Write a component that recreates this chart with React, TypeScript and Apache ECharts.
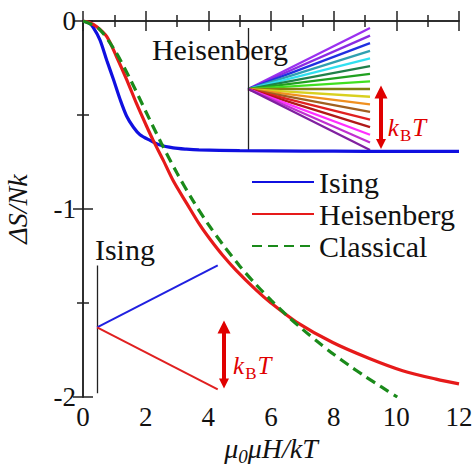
import React, { useEffect, useRef } from "react";
import * as echarts from "echarts";

// ---- data ----
const isingX = [0, 0.2, 0.33, 0.54, 0.76, 0.97, 1.18, 1.39, 1.61, 1.82, 2.14, 2.46, 2.88, 3.3, 3.7, 5, 7, 9, 12];
const isingY = [0, -0.012, -0.035, -0.1, -0.21, -0.31, -0.415, -0.505, -0.565, -0.605, -0.635, -0.66, -0.675, -0.682, -0.686, -0.69, -0.692, -0.693, -0.693];

const heisX = [0, 0.2, 0.44, 0.76, 1.07, 1.39, 1.71, 2.03, 2.24, 2.56, 2.88, 3.31, 3.73, 4.05, 4.45, 4.88, 5.52, 6.0, 6.8, 7.97, 9.14, 10.2, 11.27, 12];
const heisY = [0, -0.008, -0.03, -0.083, -0.19, -0.31, -0.44, -0.56, -0.635, -0.74, -0.85, -0.97, -1.085, -1.16, -1.245, -1.325, -1.43, -1.5, -1.6, -1.71, -1.795, -1.86, -1.905, -1.93];

const classX = [0, 0.5, 1.0, 1.5, 2.0, 2.5, 3.0, 3.5, 4.0, 4.5, 5.0, 5.5, 6.0, 6.5, 7.0, 7.5, 8.0, 8.5, 9.0, 9.5, 10.03];
const classY = [0, -0.04, -0.152, -0.307, -0.48, -0.65, -0.809, -0.953, -1.082, -1.197, -1.303, -1.398, -1.485, -1.565, -1.639, -1.708, -1.773, -1.833, -1.89, -1.944, -2.0];

const legendNames = ["Ising", "Heisenberg", "Classical"];
const yTickLabels = ["-2", "-1", "0"];

// Heisenberg inset fan
const fanOrigin = [5.27, -0.362];
const fanEndX = 9.16;
const fanEndY = [-0.037, -0.078, -0.118, -0.159, -0.199, -0.24, -0.281, -0.321, -0.362, -0.403, -0.443, -0.484, -0.524, -0.565, -0.605, -0.646, -0.686];
const fanColors = ["#9b30f0", "#8a2be2", "#2030e0", "#30a0b0", "#30e0f0", "#20804a", "#20a020", "#40e020", "#808010", "#d8d020", "#f09020", "#a06020", "#e02020", "#b01818", "#ff30ff", "#c030d0", "#8020a0"];
const heisVLine = [[5.27, -0.037], [5.27, -0.688]];
const heisArrow = [[9.51, -0.378], [9.51, -0.654]];

// Ising inset
const isingOrigin = [0.45, -1.63];
const isingUpEnd = [4.3, -1.3];
const isingDownEnd = [4.3, -1.96];
const isingVLine = [[0.45, -1.3], [0.45, -1.98]];
const isingArrow = [[4.5, -1.627], [4.5, -1.928]];

// annotation anchors (left-middle of text)
const heisLabelPos = [2.2, -0.154];
const isingLabelPos = [0.38, -1.213];
const kbtHeisPos = [9.73, -0.569];
const kbtIsingPos = [4.79, -1.835];

const FONT = "Liberation Serif";

const zip = (xs: number[], ys: number[]) => xs.map((x, i) => [x, ys[i]]);

export default function App() {
  const ref = useRef<HTMLDivElement>(null);
  useEffect(() => {
    if (!ref.current) return;
    const chart = echarts.init(ref.current, undefined, { renderer: "svg" });
    const axisLine = { show: true, lineStyle: { color: "#222", width: 1.5 } };
    const tick = { show: true, inside: true, length: 10, lineStyle: { color: "#222", width: 1.5 } };
    const minor = { show: true, splitNumber: 2, length: 6, lineStyle: { color: "#222", width: 1.5 } };
    const kbtRich = {
      k: { fontFamily: FONT, fontStyle: "italic", fontSize: 25, color: "#e00000", lineHeight: 32 },
      b: { fontFamily: FONT, fontSize: 17, color: "#e00000", verticalAlign: "bottom", lineHeight: 32, padding: [0, 1, 0, 1] },
    };
    chart.setOption({
      animation: false,
      backgroundColor: "#fff",
      textStyle: { fontFamily: FONT },
      grid: { left: 83, top: 21, width: 376, height: 376, containLabel: false, outerBoundsMode: "none" },
      legend: {
        data: legendNames,
        orient: "vertical",
        left: 251,
        top: 166,
        itemWidth: 62,
        itemHeight: 14,
        itemGap: 0,
        padding: 0,
        itemStyle: { opacity: 0 },
        textStyle: { fontFamily: FONT, fontSize: 30, color: "#111", lineHeight: 32 },
      },
      xAxis: [
        {
          type: "value", min: 0, max: 12, interval: 2, position: "bottom",
          axisLine, axisTick: tick, minorTick: minor, splitLine: { show: false },
          axisLabel: { fontFamily: FONT, fontSize: 27, color: "#111", margin: 6 },
          name: "{m|μ}{s|0}{m|μH/kT}",
          nameLocation: "middle",
          nameGap: 30,
          nameTextStyle: {
            rich: {
              m: { fontFamily: FONT, fontStyle: "italic", fontSize: 28, color: "#111", lineHeight: 34 },
              s: { fontFamily: FONT, fontStyle: "italic", fontSize: 19, color: "#111", verticalAlign: "bottom", lineHeight: 34 },
            },
          },
        },
        {
          type: "value", min: 0, max: 12, interval: 2, position: "top",
          axisLine, axisTick: tick, minorTick: minor, splitLine: { show: false },
          axisLabel: { show: false },
        },
      ],
      yAxis: [
        {
          type: "value", min: -2, max: 0, interval: 1, position: "left",
          axisLine, axisTick: tick, minorTick: minor, splitLine: { show: false },
          axisLabel: {
            fontFamily: FONT, fontSize: 27, color: "#111", margin: 7,
            formatter: (v: number) => yTickLabels[Math.round(v) + 2],
          },
          name: "ΔS/Nk",
          nameLocation: "middle",
          nameRotate: 90,
          nameGap: 52,
          nameTextStyle: { fontFamily: FONT, fontStyle: "italic", fontSize: 28, color: "#111" },
        },
        {
          type: "value", min: -2, max: 0, interval: 1, position: "right",
          axisLine, axisTick: tick, minorTick: minor, splitLine: { show: false },
          axisLabel: { show: false },
        },
      ],
      series: [
        {
          type: "lines", coordinateSystem: "cartesian2d", z: 2,
          lineStyle: { width: 2.3, opacity: 1 },
          data: fanEndY.map((y, i) => ({
            coords: [fanOrigin, [fanEndX, y]],
            lineStyle: { color: fanColors[i], width: 2.3, opacity: 1 },
          })),
        },
        {
          type: "lines", coordinateSystem: "cartesian2d", z: 2,
          lineStyle: { color: "#222", width: 1.3, opacity: 1 },
          data: [{ coords: heisVLine }, { coords: isingVLine }],
        },
        {
          type: "lines", coordinateSystem: "cartesian2d", z: 2,
          data: [
            { coords: [isingOrigin, isingUpEnd], lineStyle: { color: "#2020e0", width: 2, opacity: 1 } },
            { coords: [isingOrigin, isingDownEnd], lineStyle: { color: "#e02020", width: 2, opacity: 1 } },
          ],
        },
        {
          type: "lines", coordinateSystem: "cartesian2d", z: 4,
          symbol: ["triangle", "triangle"],
          symbolSize: [13, 10],
          lineStyle: { color: "#e00000", width: 4, opacity: 1 },
          itemStyle: { color: "#e00000" },
          data: [{ coords: heisArrow }, { coords: isingArrow }],
        },
        {
          name: "Ising", type: "line", z: 3, symbol: "none", smooth: 0.3,
          data: zip(isingX, isingY),
          lineStyle: { color: "#1010e0", width: 3.2 }, itemStyle: { color: "#1010e0" },
        },
        {
          name: "Heisenberg", type: "line", z: 3, symbol: "none", smooth: 0.3,
          data: zip(heisX, heisY),
          lineStyle: { color: "#e61a1a", width: 3.2 }, itemStyle: { color: "#e61a1a" },
        },
        {
          name: "Classical", type: "line", z: 3, symbol: "none", smooth: 0.3,
          data: zip(classX, classY),
          lineStyle: { color: "#1a8a1a", width: 3.2, type: [10, 6] }, itemStyle: { color: "#1a8a1a" },
        },
        {
          type: "scatter", z: 5, symbolSize: 0, silent: true,
          itemStyle: { opacity: 1 },
          label: { show: true, position: "right", distance: 0, fontFamily: FONT, color: "#111" },
          data: [
            { value: heisLabelPos, label: { formatter: "Heisenberg", fontSize: 30 } },
            { value: isingLabelPos, label: { formatter: "Ising", fontSize: 30 } },
            { value: kbtHeisPos, label: { formatter: "{k|k}{b|B}{k|T}", rich: kbtRich } },
            { value: kbtIsingPos, label: { formatter: "{k|k}{b|B}{k|T}", rich: kbtRich } },
          ],
        },
      ],
    });
    return () => chart.dispose();
  }, []);
  return <div ref={ref} style={{ position: "fixed", left: 0, top: 0, width: 476, height: 473, background: "#fff" }} />;
}
